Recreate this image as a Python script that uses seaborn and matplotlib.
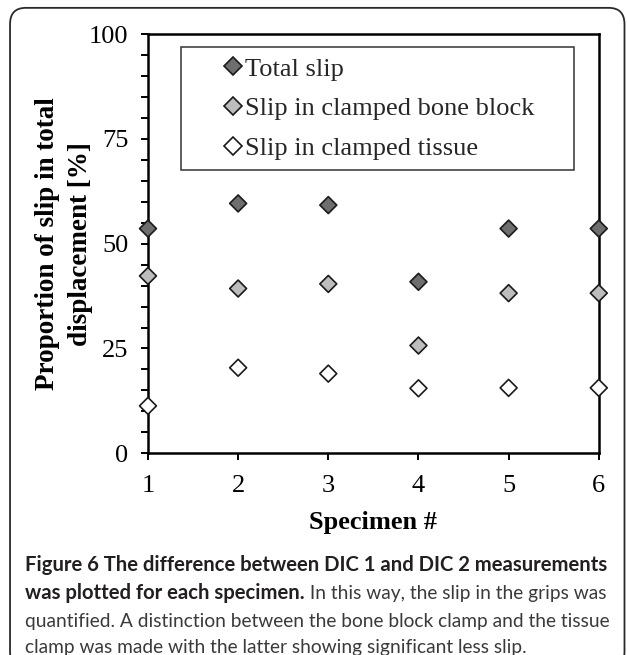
import matplotlib
matplotlib.use("Agg")
import matplotlib.pyplot as plt
import seaborn as sns
import pandas as pd
from matplotlib.patches import FancyBboxPatch
from matplotlib.ticker import MultipleLocator

# data
specimens = [1, 2, 3, 4, 5, 6]
total_slip = [53.6, 59.6, 59.2, 40.9, 53.6, 53.6]
bone_block_slip = [42.3, 39.3, 40.4, 25.7, 38.2, 38.2]
tissue_slip = [11.3, 20.4, 19.0, 15.5, 15.6, 15.6]
series_names = ["Total slip", "Slip in clamped bone block", "Slip in clamped tissue"]
series_colors = ["#6e6e6e", "#bdbdbd", "#ffffff"]

df = pd.DataFrame({
    "specimen": specimens * 3,
    "slip": total_slip + bone_block_slip + tissue_slip,
    "series": [s for s in series_names for _ in specimens],
})

sns.set_theme(style="ticks")
plt.rcParams["font.family"] = ["Liberation Serif", "DejaVu Serif"]

fig = plt.figure(figsize=(6.27, 6.55), dpi=100)
ax = fig.add_axes([0.236, 0.308, 0.719, 0.640])

sns.scatterplot(data=df, x="specimen", y="slip", hue="series", hue_order=series_names,
                palette=series_colors, marker="D", s=74, edgecolor="#1a1a1a",
                linewidth=1.2, clip_on=False, zorder=5, ax=ax)

ax.set_xlim(1, 6)
ax.set_ylim(0, 100)
ax.set_xticks(specimens)
ax.yaxis.set_major_locator(MultipleLocator(25))
ax.yaxis.set_minor_locator(MultipleLocator(5))
ax.tick_params(axis="both", which="both", direction="out", color="black",
               width=1.4, labelsize=19, labelcolor="black")
ax.tick_params(axis="both", which="major", length=5, pad=9)
ax.tick_params(axis="x", which="major", pad=11)
ax.tick_params(axis="y", which="minor", length=5)
for sp in ax.spines.values():
    sp.set_visible(True)
    sp.set_linewidth(1.8)
    sp.set_color("black")

ax.set_xlabel("Specimen #", fontsize=19, fontweight="bold", labelpad=10, color="black")
ax.set_ylabel("Proportion of slip in total\ndisplacement [%]", fontsize=19.5,
              fontweight="bold", labelpad=-3, color="black", linespacing=1.45)

leg = ax.legend(loc="upper left", bbox_to_anchor=(0.073, 0.683, 0.872, 0.286),
                mode="expand", fontsize=19, frameon=True, fancybox=False,
                framealpha=1, edgecolor="#333333", handletextpad=-1.15,
                labelspacing=0.62, borderpad=0.38, handlelength=3.2, borderaxespad=0)
leg.get_frame().set_linewidth(1.1)
for h in leg.legend_handles:
    h.set_markeredgecolor("#1a1a1a")
    h.set_markeredgewidth(1.2)
    h.set_markersize(9.5)

# rounded outer frame
frame = FancyBboxPatch((0.016, -0.02), 0.980, 1.008, transform=fig.transFigure,
                       boxstyle="round,pad=0,rounding_size=0.025", facecolor="none",
                       edgecolor="#2a2a2a", linewidth=1.3, zorder=0)
fig.patches.append(frame)

# caption
cap_font = ["Lato", "DejaVu Sans"]
fs_b = 14.6
fs_r = 13.8
x0 = 25 / 627
fig.text(x0, 1 - 565 / 655, "Figure 6 The difference between DIC 1 and DIC 2 measurements",
         family=cap_font, fontweight="bold", fontsize=fs_b, color="#231f20", va="center")
t2 = fig.text(x0, 1 - 593 / 655, "was plotted for each specimen.",
              family=cap_font, fontweight="bold", fontsize=fs_b, color="#231f20", va="center")
ax.annotate(" In this way, the slip in the grips was", xy=(1, 0.5), xycoords=t2,
            va="center", ha="left", family=cap_font, fontsize=fs_r, color="#3a3a3a",
            annotation_clip=False)
fig.text(x0, 1 - 621 / 655, "quantified. A distinction between the bone block clamp and the tissue",
         family=cap_font, fontsize=fs_r, color="#3a3a3a", va="center")
fig.text(x0, 1 - 648 / 655, "clamp was made with the latter showing significant less slip.",
         family=cap_font, fontsize=fs_r, color="#3a3a3a", va="center")

fig.savefig("out.png", dpi=100)
